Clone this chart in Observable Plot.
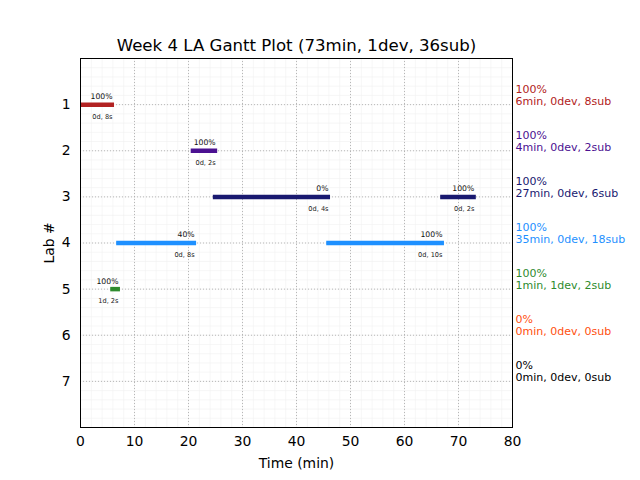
<!DOCTYPE html>
<html>
<head>
<meta charset="utf-8">
<script src="https://cdn.jsdelivr.net/npm/d3@7"></script>
<script src="https://cdn.jsdelivr.net/npm/@observablehq/plot@0.6"></script>
<style>
  html, body { margin: 0; padding: 0; background: #fff; }
  svg { font-family: "DejaVu Sans", sans-serif; }
</style>
</head>
<body>
<div id="chart"></div>
<script>
// Segments (work sessions)
const segLab   = [1, 2, 3, 3, 4, 4, 5];
const segStart = [0, 20.5, 24.6, 66.7, 6.7, 45.6, 5.6];
const segEnd   = [6.3, 25.4, 46.3, 73.3, 21.5, 67.4, 7.4];
const segPct   = ["100%", "100%", "0%", "100%", "40%", "100%", "100%"];
const segDur   = ["0d, 8s", "0d, 2s", "0d, 4s", "0d, 2s", "0d, 8s", "0d, 10s", "1d, 2s"];

// Per-lab summaries
const labNums    = [1, 2, 3, 4, 5, 6, 7];
const labPct     = ["100%", "100%", "100%", "100%", "100%", "0%", "0%"];
const labSummary = ["6min, 0dev, 8sub", "4min, 0dev, 2sub", "27min, 0dev, 6sub",
                    "35min, 0dev, 18sub", "1min, 1dev, 2sub", "0min, 0dev, 0sub", "0min, 0dev, 0sub"];
const labColors  = ["#b22222", "#4b1191", "#191970", "#1e90ff", "#2e8b2e", "#ff5010", "#000000"];

const xTicks = d3.range(0, 81, 10);
const yTicks = labNums;
const title = "Week 4 LA Gantt Plot (73min, 1dev, 36sub)";

const segs = segLab.map((l, i) => ({lab: l, start: segStart[i], end: segEnd[i], pct: segPct[i], dur: segDur[i], color: labColors[l - 1]}));
const labs = labNums.map((l, i) => ({lab: l, text: labPct[i] + "\n" + labSummary[i], color: labColors[i]}));

const chart = Plot.plot({
  width: 640,
  height: 480,
  marginLeft: 80,
  marginRight: 128,
  marginTop: 58,
  marginBottom: 53,
  style: {fontFamily: "DejaVu Sans, sans-serif", background: "#fff"},
  x: {domain: [0, 80]},
  y: {domain: [0, 8], reverse: true},
  color: {type: "identity"},
  marks: [
    // minor grid
    Plot.ruleX(d3.range(0, 81, 2), {stroke: "#f0f0f0", strokeWidth: 0.6}),
    Plot.ruleY(d3.range(0, 8.001, 0.2), {stroke: "#f0f0f0", strokeWidth: 0.6}),
    // major grid
    Plot.ruleX(xTicks, {stroke: "#b0b0b0", strokeWidth: 0.9, strokeDasharray: "1,2"}),
    Plot.ruleY(yTicks, {stroke: "#b0b0b0", strokeWidth: 0.9, strokeDasharray: "1,2"}),
    // bars
    Plot.ruleY(segs, {y: "lab", x1: "start", x2: "end", stroke: "color", strokeWidth: 4.5}),
    Plot.text(segs, {x: "end", y: "lab", text: "pct", textAnchor: "end", dx: -2, dy: -8, fontSize: 7.7, fill: "#111"}),
    Plot.text(segs, {x: "end", y: "lab", text: "dur", textAnchor: "end", dx: -2, dy: 12, fontSize: 6.6, fill: "#222"}),
    // right-side labels
    Plot.text(labs, {x: 80, y: "lab", text: "text", fill: "color", textAnchor: "start", lineAnchor: "bottom", lineHeight: 1.09, dx: 3, dy: 0, fontSize: 11}),
    // axes
    Plot.axisX(xTicks, {tickSize: 0, tickPadding: 9, fontSize: 13.9, label: null}),
    Plot.axisY(yTicks, {tickSize: 0, tickPadding: 10, fontSize: 13.9, label: null}),
    Plot.text(["Time (min)"], {frameAnchor: "bottom", lineAnchor: "middle", dy: 36, fontSize: 13.9, fill: "#000"}),
    Plot.text(["Lab #"], {frameAnchor: "left", textAnchor: "middle", lineAnchor: "middle", dx: -31, rotate: -90, fontSize: 13.9, fill: "#000"}),
    Plot.text([title], {frameAnchor: "top", lineAnchor: "middle", dy: -13, fontSize: 16.6, fill: "#000"}),
    Plot.frame({stroke: "#000", strokeWidth: 1})
  ]
});
document.getElementById("chart").append(chart);
</script>
</body>
</html>
